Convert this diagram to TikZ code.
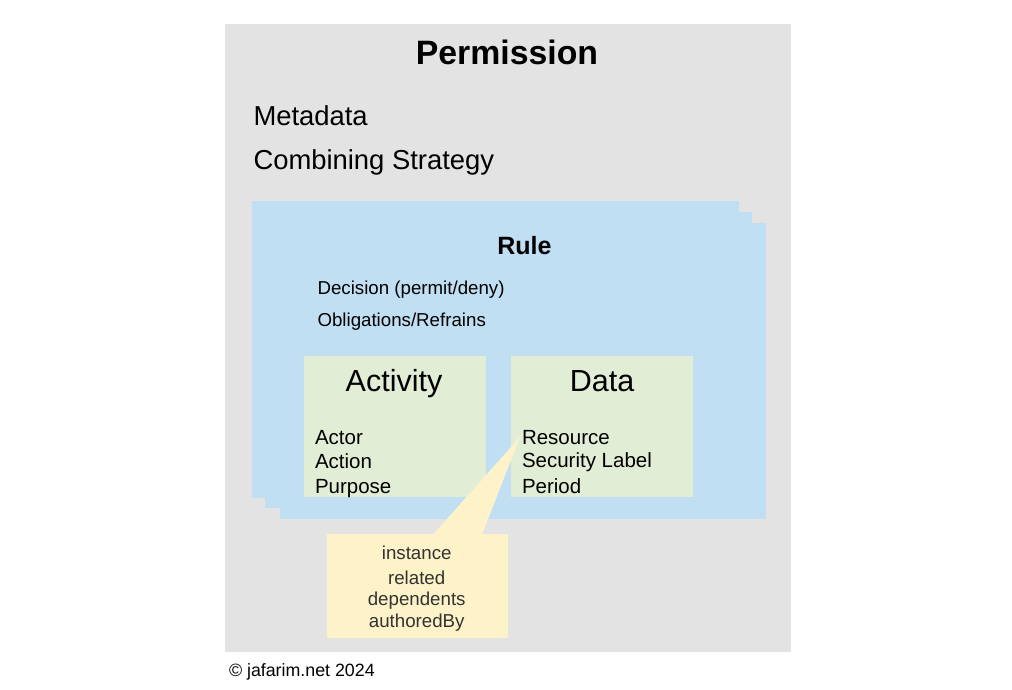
\documentclass[tikz,border=0pt]{standalone}
\usepackage{fontspec}
\setmainfont{Liberation Sans}
\usetikzlibrary{calc}
\definecolor{permgray}{RGB}{227,227,227}
\definecolor{ruleblue}{RGB}{192,223,242}
\definecolor{boxgreen}{RGB}{226,237,214}
\definecolor{noteyellow}{RGB}{253,242,200}
\definecolor{notetext}{RGB}{51,51,51}
\tikzset{
  txt/.style={inner sep=0pt, outer sep=0pt, anchor=base west},
  ctxt/.style={inner sep=0pt, outer sep=0pt, anchor=base},
  fs/.style={font=\fontsize{#1}{#1}\selectfont},
}
\begin{document}
\begin{tikzpicture}[x=1pt,y=-1pt]
\useasboundingbox[fill=white] (0,0) rectangle (1012,690);
% Permission background
\fill[permgray] (225,24) rectangle (791,652);
\node[ctxt, font=\fontsize{33.8}{33.8}\selectfont\bfseries] (perm) at (507,64.3) {Permission};
\node[txt, fs=27.4] (meta) at (253.5,125.3) {Metadata};
\node[txt, fs=27.4] (comb) at (253.5,169.5) {Combining Strategy};
% stacked rule boxes
\fill[ruleblue] (280,223) rectangle (766,519);
\fill[ruleblue] (265,212) rectangle (752,508);
\fill[ruleblue] (252,201) rectangle (739,498);
\node[ctxt, font=\fontsize{25}{25}\selectfont\bfseries] (rule) at (524.5,254.5) {Rule};
\node[txt, fs=18.7] (dec) at (317.5,294.5) {Decision (permit/deny)};
\node[txt, fs=18.7] (obl) at (317.5,326.5) {Obligations/Refrains};
% Activity and Data boxes
\fill[boxgreen] (304,356) rectangle (486,497);
\fill[boxgreen] (511,356) rectangle (693,497);
\node[ctxt, fs=30.5] (act) at (394,391.5) {Activity};
\node[ctxt, fs=30.5] (data) at (602,391.5) {Data};
\node[txt, fs=20.5] (actor) at (315,444) {Actor};
\node[txt, fs=20.5] (action) at (315,468) {Action};
\node[txt, fs=20.5] (purpose) at (315,493) {Purpose};
\node[txt, fs=20.5] (res) at (522,444) {Resource};
\node[txt, fs=20.5] (sec) at (522,467.5) {Security Label};
\node[txt, fs=20.5] (period) at (522,493) {Period};
% callout
\node[fill=noteyellow, minimum width=181pt, minimum height=104pt, inner sep=0pt, anchor=north west] (note) at (327,534) {};
\coordinate (tip) at (520,437);
\fill[noteyellow] ($(note.north west)+(106,0.5)$) -- (tip) -- ($(note.north west)+(155,0.5)$) -- cycle;
\node[ctxt, fs=18.7, text=notetext] (n1) at (416.7,559.3) {instance};
\node[ctxt, fs=18.7, text=notetext] (n2) at (416.7,584) {related};
\node[ctxt, fs=18.7, text=notetext] (n3) at (416.7,605) {dependents};
\node[ctxt, fs=18.7, text=notetext] (n4) at (416.7,627.5) {authoredBy};
% copyright
\node[txt, fs=17.8] (copy) at (229,676) {© jafarim.net 2024};
\end{tikzpicture}
\end{document}
